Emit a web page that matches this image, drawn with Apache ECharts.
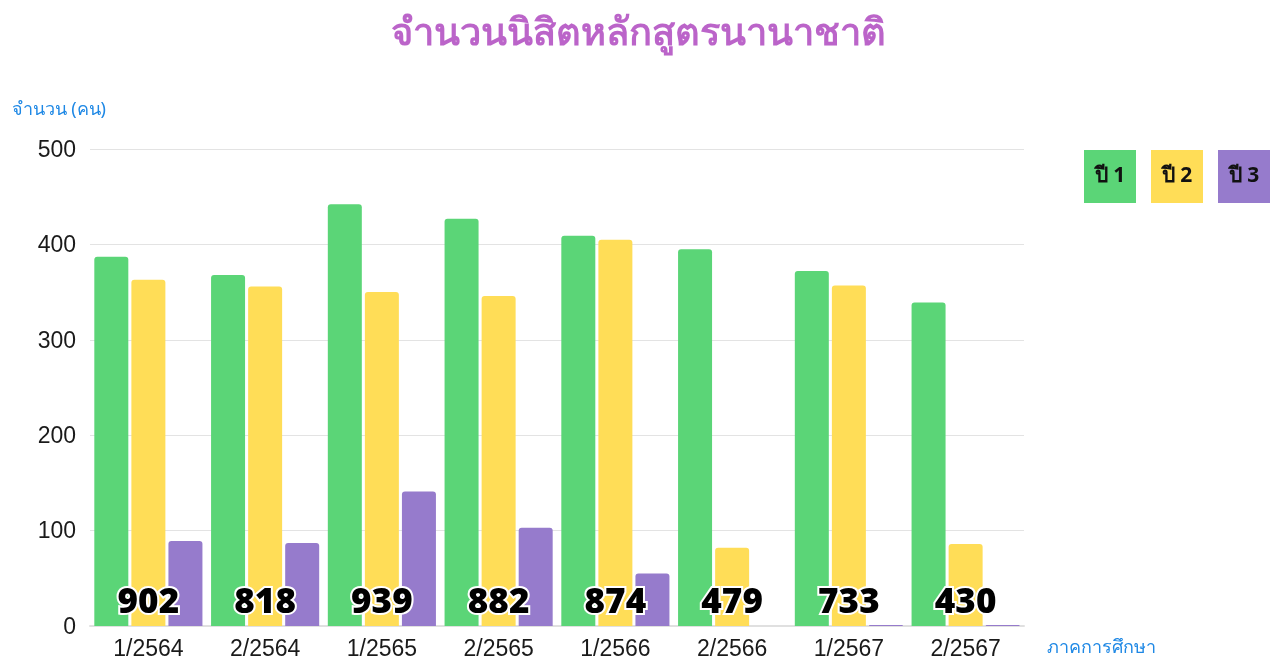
<!DOCTYPE html>
<html>
<head>
<meta charset="utf-8">
<script src="https://cdn.jsdelivr.net/npm/echarts@6/dist/echarts.min.js"></script>
<style>
html,body{margin:0;padding:0;background:#fff;}
#chart{width:1280px;height:671px;}
</style>
</head>
<body>
<div id="chart"></div>
<script>
const categories = ['1/2564','2/2564','1/2565','2/2565','1/2566','2/2566','1/2567','2/2567'];
const seriesNames = ['ปี 1','ปี 2','ปี 3'];
const year1 = [387, 368, 442, 427, 409, 395, 372, 339];
const year2 = [363, 356, 350, 346, 405, 82, 357, 86];
const year3 = [89, 87, 141, 103, 55, 0, 1, 1];
const totals = [902, 818, 939, 882, 874, 479, 733, 430];
const yTicks = [0, 100, 200, 300, 400, 500];

const colors = ['#5bd577', '#ffdd57', '#967bcc'];
const FONT = '"Noto Sans", "DejaVu Sans", sans-serif';
const AXFONT = '"Liberation Sans", Arial, sans-serif';

const chart = echarts.init(document.getElementById('chart'));
const richLegend = {};
['a','b','c'].forEach((k, i) => {
  richLegend[k] = {
    backgroundColor: colors[i], width: 52, height: 53, lineHeight: 53,
    align: 'center', fontWeight: 'bold', fontSize: 21, color: '#111', fontFamily: FONT
  };
});

chart.setOption({
  animation: false,
  textStyle: { fontFamily: FONT },
  title: {
    text: 'จำนวนนิสิตหลักสูตรนานาชาติ',
    left: 386, top: 10,
    textStyle: { fontSize: 38, fontWeight: 'bold', color: '#bb64c9', fontFamily: FONT }
  },
  legend: {
    data: seriesNames,
    left: 1074, top: 145,
    icon: 'none', itemWidth: 0, itemHeight: 0, itemGap: 10,
    formatter: name => {
      const k = ['a','b','c'][seriesNames.indexOf(name)];
      return '{' + k + '|' + name + '}';
    },
    textStyle: { rich: richLegend },
    selectedMode: false
  },
  grid: { left: 90, right: 256, top: 149, bottom: 45, containLabel: false },
  xAxis: {
    type: 'category',
    data: categories,
    name: 'ภาคการศึกษา',
    nameLocation: 'end',
    nameGap: 23,
    nameTextStyle: { color: '#1e88e5', fontSize: 18, align: 'left', verticalAlign: 'top', padding: [13, 0, 0, 0] },
    axisLine: { lineStyle: { color: '#e0e0e0', width: 2 } },
    axisTick: { show: false },
    axisLabel: { fontSize: 23, color: '#1a1a1a', margin: 12, fontFamily: AXFONT }
  },
  yAxis: {
    type: 'value',
    min: yTicks[0], max: yTicks[yTicks.length - 1], interval: 100,
    name: 'จำนวน (คน)',
    nameLocation: 'end',
    nameGap: 30,
    nameTextStyle: { color: '#1e88e5', fontSize: 18, align: 'right', padding: [0, -16, 0, 0] },
    axisLine: { show: false },
    axisTick: { show: false },
    axisLabel: { fontSize: 23, color: '#1a1a1a', margin: 14, fontFamily: AXFONT, verticalAlign: 'top', padding: [-10, 0, 0, 0] },
    splitLine: { lineStyle: { color: '#e3e3e3' } }
  },
  series: [
    {
      name: seriesNames[0], type: 'bar', data: year1, barWidth: 34, barGap: '9%',
      itemStyle: { color: colors[0], borderRadius: [3,3,0,0] }
    },
    {
      name: seriesNames[1], type: 'bar', data: year2, barWidth: 34, barGap: '9%',
      itemStyle: { color: colors[1], borderRadius: [3,3,0,0] },
      label: {
        show: true, position: 'insideBottom', distance: 5,
        formatter: p => String(totals[p.dataIndex]),
        fontSize: 35, lineHeight: 35, fontWeight: 900, color: '#000',
        textBorderColor: '#fff', textBorderWidth: 4, fontFamily: FONT
      },
      z: 3
    },
    {
      name: seriesNames[2], type: 'bar', data: year3, barWidth: 34, barGap: '9%',
      itemStyle: { color: colors[2], borderRadius: [3,3,0,0] }
    }
  ]
});
</script>
</body>
</html>
